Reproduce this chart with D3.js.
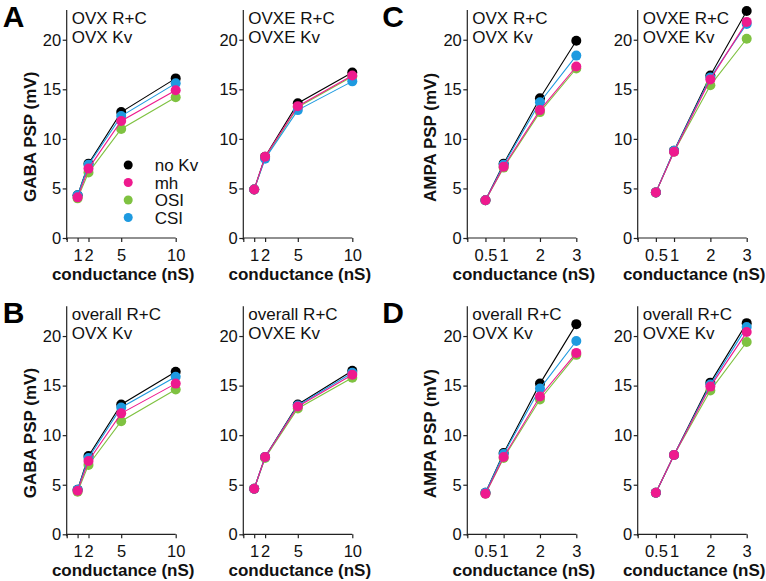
<!DOCTYPE html>
<html><head><meta charset="utf-8">
<script src="https://cdn.jsdelivr.net/npm/d3@7"></script>
<style>
html,body{margin:0;padding:0;background:#fff;}
text{font-family:"Liberation Sans",Arial,sans-serif;}
</style></head>
<body><svg id="c" width="766" height="581"></svg>
<script>
// ---- data ----
const seriesNames = ["no Kv", "mh", "OSI", "CSI"];
const drawOrder = ["no Kv", "OSI", "CSI", "mh"];
const seriesColors = ["#000000", "#ee1a8e", "#7fc241", "#1e9ae0"];
const gabaX = [1, 2, 5, 10];
const ampaX = [0.5, 1, 2, 3];
const gabaTicks = [0, 1, 2, 5, 10];
const ampaTicks = [0, 0.5, 1, 2, 3];
const yTicks = [0, 5, 10, 15, 20];

// values ordered as seriesNames: no Kv, mh, OSI, CSI
const gabaOvxOvx = [[4.3, 7.5, 12.7, 16.1], [4.1, 7.0, 11.8, 14.9], [4.0, 6.6, 11.0, 14.2], [4.3, 7.4, 12.3, 15.6]];
const gabaOvxeOvxe = [[4.9, 8.2, 13.6, 16.7], [4.9, 8.2, 13.3, 16.4], [4.9, 8.1, 13.2, 16.3], [4.9, 8.0, 12.9, 15.8]];
const ampaOvxOvx = [[3.8, 7.5, 14.1, 19.9], [3.8, 7.2, 12.9, 17.3], [3.8, 7.1, 12.7, 17.1], [3.8, 7.4, 13.7, 18.4]];
const ampaOvxeOvxe = [[4.6, 8.8, 16.4, 22.9], [4.6, 8.7, 16.0, 21.8], [4.6, 8.7, 15.4, 20.1], [4.6, 8.8, 16.2, 21.6]];
const gabaOverallOvx = [[4.5, 7.9, 13.1, 16.4], [4.4, 7.4, 12.2, 15.2], [4.3, 7.0, 11.4, 14.6], [4.5, 7.7, 12.8, 15.9]];
const gabaOverallOvxe = [[4.6, 7.8, 13.1, 16.5], [4.6, 7.8, 12.9, 16.1], [4.6, 7.7, 12.7, 15.8], [4.6, 7.8, 13.0, 16.3]];
const ampaOverallOvx = [[4.2, 8.2, 15.2, 21.2], [4.1, 7.8, 13.9, 18.3], [4.1, 7.7, 13.6, 18.1], [4.2, 8.1, 14.7, 19.5]];
const ampaOverallOvxe = [[4.2, 8.0, 15.3, 21.3], [4.2, 8.0, 14.9, 20.4], [4.2, 8.0, 14.5, 19.4], [4.2, 8.0, 15.1, 20.9]];

const panels = [
  {col:0,row:0,letter:"A",ylab:"GABA PSP (mV)",x:gabaX,ticks:gabaTicks,xmax:10,vals:gabaOvxOvx,lines:["OVX R+C","OVX Kv"],legend:true},
  {col:1,row:0,letter:null,ylab:null,x:gabaX,ticks:gabaTicks,xmax:10,vals:gabaOvxeOvxe,lines:["OVXE R+C","OVXE Kv"]},
  {col:2,row:0,letter:"C",ylab:"AMPA PSP (mV)",x:ampaX,ticks:ampaTicks,xmax:3,vals:ampaOvxOvx,lines:["OVX R+C","OVX Kv"]},
  {col:3,row:0,letter:null,ylab:null,x:ampaX,ticks:ampaTicks,xmax:3,vals:ampaOvxeOvxe,lines:["OVXE R+C","OVXE Kv"]},
  {col:0,row:1,letter:"B",ylab:"GABA PSP (mV)",x:gabaX,ticks:gabaTicks,xmax:10,vals:gabaOverallOvx,lines:["overall R+C","OVX Kv"]},
  {col:1,row:1,letter:null,ylab:null,x:gabaX,ticks:gabaTicks,xmax:10,vals:gabaOverallOvxe,lines:["overall R+C","OVXE Kv"]},
  {col:2,row:1,letter:"D",ylab:"AMPA PSP (mV)",x:ampaX,ticks:ampaTicks,xmax:3,vals:ampaOverallOvx,lines:["overall R+C","OVX Kv"]},
  {col:3,row:1,letter:null,ylab:null,x:ampaX,ticks:ampaTicks,xmax:3,vals:ampaOverallOvxe,lines:["overall R+C","OVXE Kv"]}
];

// ---- layout ----
const colX = [66.7, 243.3, 467.3, 637.7];
const rowY0 = [238, 534.3];
const plotW = 109, plotH = 228;
const svg = d3.select("#c");
const axisColor = "#222";

panels.forEach(p => {
  const x0 = colX[p.col], yb = rowY0[p.row];
  const xs = d3.scaleLinear().domain([0, p.xmax]).range([x0, x0 + plotW]);
  const ys = d3.scaleLinear().domain([0, 23]).range([yb, yb - plotH]);
  const g = svg.append("g");

  // axes
  const ya = g.append("g").attr("transform", `translate(${x0},0)`)
    .call(d3.axisLeft(ys).tickValues(yTicks).tickSize(4).tickPadding(1.5).tickFormat(d3.format("d")));
  const xa = g.append("g").attr("transform", `translate(0,${yb})`)
    .call(d3.axisBottom(xs).tickValues(p.ticks).tickSize(4).tickPadding(7).tickFormat(d => d === 0 ? "" : String(d)));
  [ya, xa].forEach(a => {
    a.select(".domain").attr("stroke", axisColor).attr("stroke-width", 1.2);
    a.selectAll(".tick line").attr("stroke", axisColor).attr("stroke-width", 1.2);
    a.selectAll("text").attr("font-size", 16.5).attr("fill", "#111");
  });
  ya.select(".domain").attr("d", `M0,${yb - plotH}V${yb + 2}`);
  xa.select(".domain").attr("d", `M${x0},0H${x0 + plotW}`);

  // x label
  g.append("text").attr("x", x0 + plotW / 2 + 2).attr("y", yb + 42)
    .attr("text-anchor", "middle").attr("font-size", 17).attr("font-weight", "bold").attr("fill", "#111")
    .text("conductance (nS)");
  // y label
  if (p.ylab) {
    g.append("text").attr("transform", `translate(${x0 - 31},${yb - 36}) rotate(-90)`)
      .attr("text-anchor", "start").attr("font-size", 17).attr("font-weight", "bold").attr("fill", "#111")
      .text(p.ylab);
  }
  // panel letter
  if (p.letter) {
    g.append("text").attr("x", x0 - (p.col === 0 ? 64 : 85)).attr("y", yb - 211)
      .attr("font-size", 30).attr("font-weight", "bold").attr("fill", "#000").text(p.letter);
  }
  // annotation
  p.lines.forEach((t, i) => {
    g.append("text").attr("x", x0 + 5).attr("y", yb - 214 + i * 18.5)
      .attr("font-size", 17).attr("fill", "#111").text(t);
  });

  // series
  const line = d3.line().x((d, i) => xs(p.x[i])).y(d => ys(d));
  drawOrder.forEach(name => {
    const si = seriesNames.indexOf(name);
    const vals = p.vals[si], col = seriesColors[si];
    const sg = g.append("g");
    sg.append("path").attr("d", line(vals)).attr("fill", "none").attr("stroke", col).attr("stroke-width", 1.1);
    sg.selectAll("circle").data(vals).join("circle")
      .attr("cx", (d, i) => xs(p.x[i])).attr("cy", d => ys(d)).attr("r", 5).attr("fill", col);
  });

  // legend
  if (p.legend) {
    const ly0 = 165;
    seriesNames.forEach((name, i) => {
      const yy = ly0 + i * 17.5;
      g.append("circle").attr("cx", x0 + 61.5).attr("cy", yy).attr("r", 4.5).attr("fill", seriesColors[i]);
      g.append("text").attr("x", x0 + 88).attr("y", yy + 6).attr("font-size", 17).attr("fill", "#111").text(name);
    });
  }
});
</script></body></html>
